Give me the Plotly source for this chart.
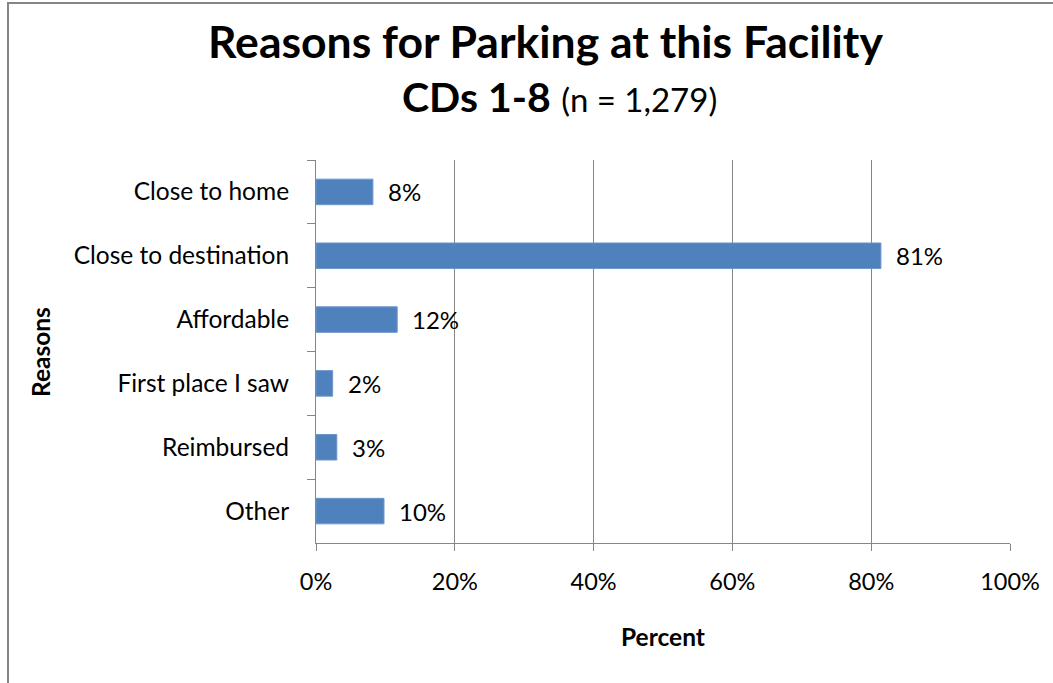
import plotly.graph_objects as go

# Survey results: share of respondents citing each reason
reasons = ["Close to home", "Close to destination", "Affordable",
           "First place I saw", "Reimbursed", "Other"]
percent = [8.2, 81.4, 11.7, 2.4, 3.0, 9.8]
x_ticks = [0, 20, 40, 60, 80, 100]
x_tick_labels = ["0%", "20%", "40%", "60%", "80%", "100%"]

FONT = "Lato, Carlito, Calibri, sans-serif"
GRID = "#868686"
BAR = "#4F81BD"

W, H = 1053, 683
L, R, T, B = 316, 43, 160, 140

fig = go.Figure()
fig.add_trace(go.Bar(
    x=percent,
    y=reasons,
    orientation="h",
    marker=dict(color=BAR, line=dict(color="#6E97CB", width=1)),
    width=0.4,
    hoverinfo="skip",
))

# value labels placed just past the end of each bar
for r, v in zip(reasons, percent):
    fig.add_annotation(
        x=v, y=r, xref="x", yref="y",
        text=f"{v:.0f}%", showarrow=False,
        xanchor="left", yanchor="middle", xshift=13,
        font=dict(family=FONT, size=24, color="#000000"),
    )

fig.update_xaxes(
    range=[0, 100],
    tickvals=x_ticks, ticktext=x_tick_labels,
    showgrid=True, gridcolor=GRID, gridwidth=1,
    showline=True, linecolor=GRID, linewidth=1,
    ticks="outside", ticklen=7, tickcolor=GRID, tickwidth=1,
    ticklabelstandoff=11,
    tickfont=dict(family=FONT, size=23.5, color="#000000"),
    zeroline=False, fixedrange=True,
)
fig.update_yaxes(
    categoryorder="array", categoryarray=reasons,
    autorange="reversed",
    showline=True, linecolor=GRID, linewidth=1,
    ticks="outside", ticklen=8, tickcolor=GRID, tickwidth=1,
    tickson="boundaries",
    ticklabelstandoff=21,
    tickfont=dict(family=FONT, size=24.5, color="#000000"),
    showgrid=False, zeroline=False, fixedrange=True,
)

# title block
fig.add_annotation(
    x=545, y=H - 40, xref="paper", yref="paper",
    text="<b>Reasons for Parking at this Facility</b>", showarrow=False,
    xanchor="center", yanchor="middle",
    font=dict(family=FONT, size=44.5, color="#000000"),
)
fig.add_annotation(
    x=559, y=H - 97, xref="paper", yref="paper",
    text="<b>CDs 1-8</b> <span style='font-size:33px'>(n = 1,279)</span>",
    showarrow=False, xanchor="center", yanchor="middle",
    font=dict(family=FONT, size=41, color="#000000"),
)

# axis titles
fig.add_annotation(
    x=663, y=H - 636, xref="paper", yref="paper",
    text="<b>Percent</b>", showarrow=False,
    xanchor="center", yanchor="middle",
    font=dict(family=FONT, size=24.5, color="#000000"),
)
fig.add_annotation(
    x=40, y=H - 352, xref="paper", yref="paper",
    text="<b>Reasons</b>", showarrow=False, textangle=-90,
    xanchor="center", yanchor="middle",
    font=dict(family=FONT, size=24.5, color="#000000"),
)

# convert pixel positions of annotations placed in paper space
pw, ph = W - L - R, H - T - B
for a in fig.layout.annotations:
    if a.xref == "paper":
        a.x = (a.x - L) / pw
        a.y = (a.y - B) / ph

# chart frame (runs off the right and bottom edges)
fig.add_shape(
    type="rect", xref="paper", yref="paper",
    x0=(8 - L) / pw, x1=(W + 20 - L) / pw,
    y0=(-20 - B) / ph, y1=(H - 3 - B) / ph,
    line=dict(color="#868686", width=2), fillcolor="rgba(0,0,0,0)",
    layer="below",
)

fig.update_layout(
    width=W, height=H,
    margin=dict(l=L, r=R, t=T, b=B),
    paper_bgcolor="#ffffff", plot_bgcolor="#ffffff",
    showlegend=False,
    font=dict(family=FONT, color="#000000"),
)

fig.write_html("out.html", config={"displayModeBar": False})
